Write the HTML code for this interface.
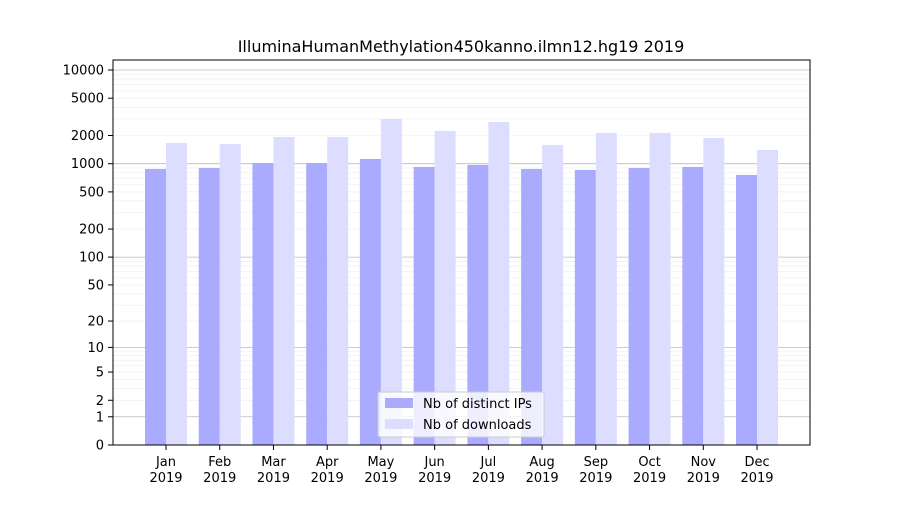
<!DOCTYPE html>
<html><head><meta charset="utf-8"><style>
body{margin:0;background:#fff;font-family:"Liberation Sans","DejaVu Sans",sans-serif;}
svg text{font-family:"DejaVu Sans","Liberation Sans",sans-serif;}
</style></head><body>
<svg id="chart" width="900" height="500">
<text x="461" y="52" font-size="16" text-anchor="middle">IlluminaHumanMethylation450kanno.ilmn12.hg19 2019</text>
<g id="grid"></g><g id="bars"></g><g id="axes"></g>
<rect x="113" y="60" width="697" height="385" fill="none" stroke="#000" stroke-width="1"/>
<g>
<rect x="378" y="392" width="166" height="45" fill="#fff" fill-opacity="0.8" stroke="#ccc" rx="2"/>
<rect x="385" y="398" width="28" height="10" fill="#aaaaff"/>
<text x="423" y="408" font-size="13">Nb of distinct IPs</text>
<rect x="385" y="419" width="28" height="10" fill="#ddddff"/>
<text x="423" y="429" font-size="13">Nb of downloads</text>
</g>
</svg>
<script>
const months=["Jan","Feb","Mar","Apr","May","Jun","Jul","Aug","Sep","Oct","Nov","Dec"];
const distinctIPs=[879,901,1018,1018,1124,923,970,879,857,901,923,759];
const downloads=[1664,1625,1929,1929,3002,2236,2788,1585,2129,2129,1883,1402];
const yTicks=[0,1,2,5,10,20,50,100,200,500,1000,2000,5000,10000];
const NS="http://www.w3.org/2000/svg";
function y(v){return 445-Math.log10(1+v)*93.75;}
function xc(i){return 166+i*53.73;}
function mk(t,a,p){const e=document.createElementNS(NS,t);for(const k in a)e.setAttribute(k,a[k]);p.appendChild(e);return e;}
const grid=document.getElementById('grid'),bars=document.getElementById('bars'),axes=document.getElementById('axes');
for(let d=1;d<=10000;d*=10){for(let m=1;m<10;m++){const v=d*m;if(v>10000)break;
const l=mk('line',{x1:113,x2:810,y1:y(v),y2:y(v),stroke:m==1?'#bbb':'#eee','stroke-width':m==1?0.8:0.6},grid);

}}
yTicks.forEach(v=>{const yy=y(v);
mk('line',{x1:108,x2:113,y1:yy,y2:yy,stroke:'#000'},axes);
const t=mk('text',{x:104,y:yy+4.5,'font-size':13,'text-anchor':'end'},axes);t.textContent=v;

});
months.forEach((m,i)=>{const c=xc(i);
const b1=mk('rect',{x:c-21,y:y(distinctIPs[i]),width:21,height:445-y(distinctIPs[i]),fill:'#aaaaff'},bars);


const b2=mk('rect',{x:c,y:y(downloads[i]),width:21,height:445-y(downloads[i]),fill:'#ddddff'},bars);


mk('line',{x1:c,x2:c,y1:445,y2:450,stroke:'#000'},axes);
const t=mk('text',{x:c,y:466,'font-size':13,'text-anchor':'middle'},axes);t.textContent=m;


const t2=mk('text',{x:c,y:482,'font-size':13,'text-anchor':'middle'},axes);t2.textContent='2019';

});
</script>
</body></html>
